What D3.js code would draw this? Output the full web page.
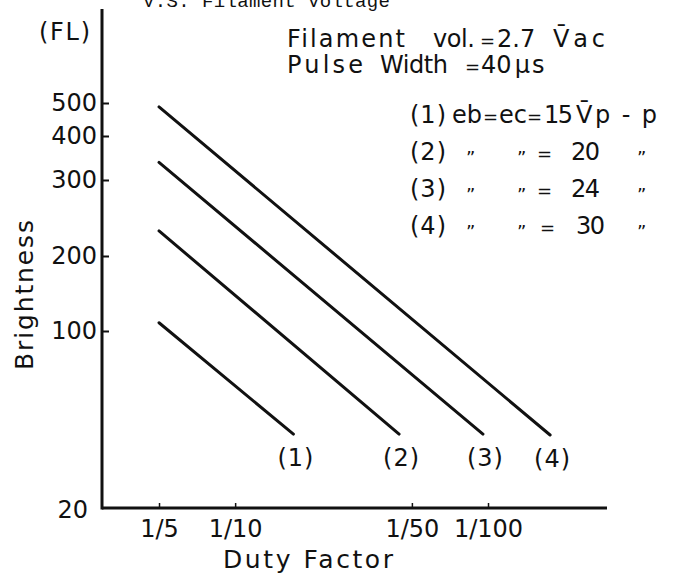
<!DOCTYPE html>
<html><head><meta charset="utf-8">
<script src="https://cdn.jsdelivr.net/npm/d3@7"></script>
<style>
body{margin:0;background:#fff}
svg text{font-family:"DejaVu Sans",sans-serif;fill:#111}
</style>
</head><body>
<svg id="c" width="682" height="577"></svg>
<script>
// ---- data ----
const seriesNames = ["(1)", "(2)", "(3)", "(4)"];
const startDuty = [1/5, 1/5, 1/5, 1/5];
const endDuty = [1/17, 1/44.5, 1/95.5, 1/176];
const startBrightness = [111, 233, 340, 488];
const endBrightness = [53.4, 53.4, 53.4, 53];
const yTickValues = [20, 100, 200, 300, 400, 500];
const xTickValues = [1/5, 1/10, 1/50, 1/100];
const xTickLabels = ["1/5", "1/10", "1/50", "1/100"];
const legendVoltages = ["15", "20", "24", "30"];

const svg = d3.select("#c");
const ink = "#111";

// scales (hand-drawn brightness axis -> piecewise scale through its tick marks)
const x = d3.scaleLog().domain([1/2.975, 1/295.5]).range([102, 607]);
const y = d3.scaleLinear().domain(yTickValues).range([508, 331, 256, 180, 136, 103]);

function txt(s, px, py, opts = {}) {
  const t = svg.append("text").attr("x", px).attr("y", py)
    .attr("font-size", opts.size || 24).text(s);
  if (opts.w) t.attr("textLength", opts.w).attr("lengthAdjust", "spacing");
  if (opts.anchor) t.attr("text-anchor", opts.anchor);
  if (opts.family) t.style("font-family", opts.family);
  return t;
}
// text built from parts, with a small "=" sign as in the lettering
function parts(list, px, py, size) {
  const t = svg.append("text").attr("x", px).attr("y", py).attr("font-size", size);
  list.forEach(p => {
    const s = t.append("tspan").text(p.t);
    if (p.s) s.attr("font-size", p.s);
    if (p.dx) s.attr("dx", p.dx);
  });
  return t;
}

// title (cut at the top edge, as in the source)
txt("V.S. Filament Voltage", 143, 7, {size: 19, w: 247, family: "'Liberation Mono', monospace"});

// y axis
svg.append("line").attr("x1", 102).attr("x2", 102).attr("y1", 9).attr("y2", y(20) + 1.5)
  .attr("stroke", ink).attr("stroke-width", 3);
const gy = svg.append("g").attr("transform", "translate(102,0)")
  .call(d3.axisLeft(y).tickValues(yTickValues).tickSize(-7).tickPadding(5).tickFormat(d3.format("d")));
gy.select(".domain").remove();
gy.attr("font-family", null).attr("font-size", null);
gy.selectAll(".tick line").attr("stroke", ink).attr("stroke-width", 2);
gy.selectAll(".tick text").attr("font-size", 24).attr("fill", ink);
gy.selectAll(".tick").filter(d => d === 20).select("line").remove();
gy.selectAll(".tick").filter(d => d === 20).select("text").attr("dx", -9).attr("dy", "0.4em");

// x axis
svg.append("line").attr("x1", 102).attr("x2", 607).attr("y1", y(20)).attr("y2", y(20))
  .attr("stroke", ink).attr("stroke-width", 3);
const gx = svg.append("g").attr("transform", `translate(0,${y(20)})`)
  .call(d3.axisBottom(x).tickValues(xTickValues).tickSize(-5).tickPadding(12)
    .tickFormat((d, i) => xTickLabels[i]));
gx.select(".domain").remove();
gx.attr("font-family", null).attr("font-size", null);
gx.selectAll(".tick line").attr("stroke", ink).attr("stroke-width", 1.5);
gx.selectAll(".tick text").attr("font-size", 24).attr("fill", ink);

// axis titles
txt("(FL)", 39, 40, {w: 51});
txt("Brightness", 0, 0, {size: 25, w: 150, anchor: "middle"})
  .attr("transform", "translate(33,295) rotate(-90)");
txt("Duty Factor", 223, 568, {size: 25, w: 170});

// series lines + end labels
const lineGen = d3.line().x(d => x(d[0])).y(d => y(d[1]));
seriesNames.forEach((name, i) => {
  const pts = [[startDuty[i], startBrightness[i]], [endDuty[i], endBrightness[i]]];
  svg.append("path").attr("d", lineGen(pts)).attr("fill", "none")
    .attr("stroke", ink).attr("stroke-width", 3).attr("stroke-linecap", "round");
  txt(name, x(endDuty[i]) + 2, y(endBrightness[i]) + 32, {anchor: "middle", w: 36});
});

// header notes
txt("Filament", 287, 47, {size: 24, w: 118});
txt("vol.", 433, 47, {size: 24, w: 42});
parts([{t: "=", s: 18}, {t: "2.7", dx: 2}], 480, 47, 24);
txt("V\u0304ac", 553, 47, {size: 24, w: 52});
txt("Pulse", 287, 73, {size: 24, w: 76});
txt("Width", 380, 73, {size: 24, w: 68});
parts([{t: "=", s: 18}, {t: "40", dx: 1}, {t: "\u03bc", dx: 3}, {t: "s", dx: 2}], 465, 73, 24);

// legend rows
const rowY = [123, 160, 197, 234];
seriesNames.forEach((name, i) => {
  const ry = rowY[i];
  txt(name, 410, ry, {size: 24, w: 36});
  if (i === 0) {
    parts([{t: "eb"}, {t: "=", s: 18, dx: 1}, {t: "ec", dx: 1}], 452, ry, 24);
    txt("=", 527, ry, {size: 18});
    txt(legendVoltages[i], 544, ry, {size: 24, w: 29});
    txt("V\u0304", 576, ry, {size: 24});
    txt("p-p", 595, ry, {size: 24, w: 62});
  } else {
    txt("\u201D", 466, ry + 4, {size: 18});
    txt("\u201D", 517, ry + 4, {size: 18});
    txt("=", 537 + (i === 3 ? 3 : 0), ry, {size: 18});
    txt(legendVoltages[i], 571 + (i === 3 ? 5 : 0), ry, {size: 24, w: 29});
    txt("\u201D", 637, ry + 4, {size: 18});
  }
});
</script>
</body></html>
